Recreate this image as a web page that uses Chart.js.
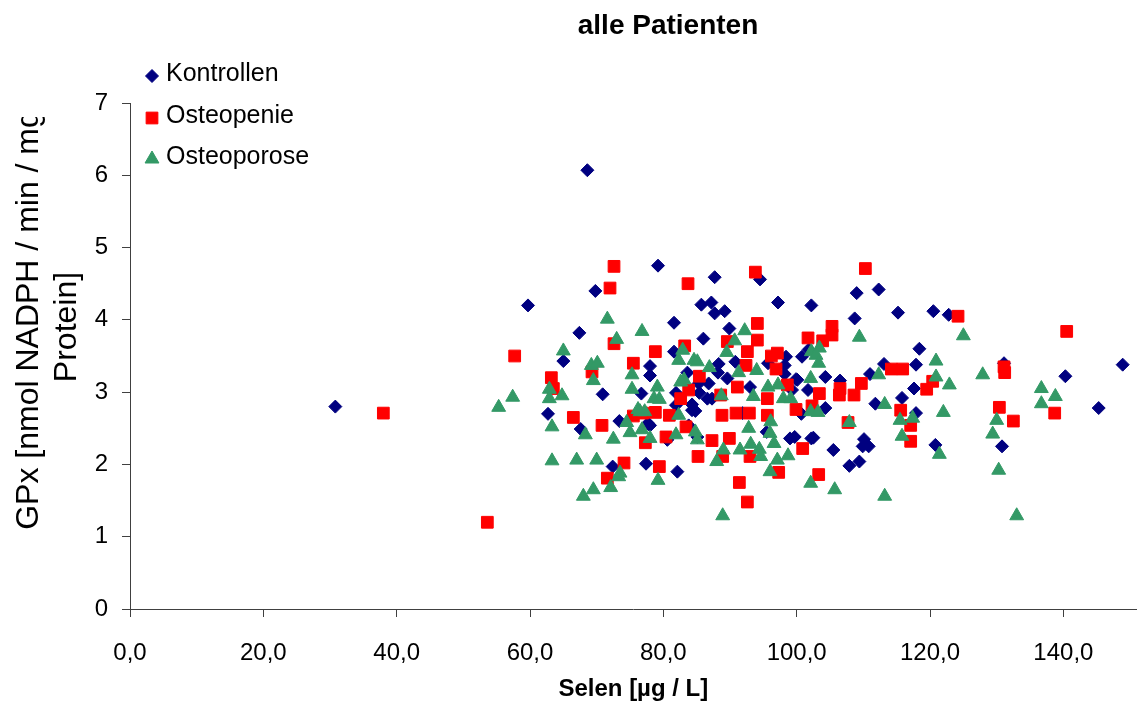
<!DOCTYPE html>
<html><head><meta charset="utf-8">
<script src="https://cdn.jsdelivr.net/npm/chart.js@4.4.1/dist/chart.umd.min.js"></script>
<style>html,body{margin:0;padding:0;background:#fff;}canvas{display:block;}</style>
</head><body>
<canvas id="c" width="1146" height="704"></canvas>
<script>
const chartTitle = 'alle Patienten';
const xAxisTitle = 'Selen [µg / L]';
const yAxisTitleLines = ['GPx [nmol NADPH / min / mg', 'Protein]'];
const seriesNames = ['Kontrollen', 'Osteopenie', 'Osteoporose'];
const xTickValues = [0, 20, 40, 60, 80, 100, 120, 140];
const yTickValues = [0, 1, 2, 3, 4, 5, 6, 7];

const kontrollenSelen = [30.8,68.6,59.7,69.8,79.2,87.7,94.5,85.7,87.2,87.7,89.2,97.2,102.2,81.6,89.9,67.4,86.0,65.0,70.9,78.0,78.0,81.6,98.4,101.8,88.3,90.8,100.8,98.2,99.9,99.3,83.6,88.2,89.6,86.8,85.3,76.7,81.9,85.4,93.0,62.7,67.6,73.4,78.0,80.6,72.4,77.4,82.1,84.3,87.3,85.1,91.9,99.0,99.7,102.2,100.6,81.9,86.6,84.3,84.8,77.7,83.8,95.5,109.0,112.3,108.7,115.2,120.5,122.8,118.4,117.9,113.1,111.0,104.3,106.5,100.1,117.6,115.8,111.8,104.3,117.9,100.7,148.9,140.3,131.1,145.3,130.8,120.8,102.5,105.5,110.1,110.8,109.9,109.4,107.9,95.7,98.2,101.7];
const kontrollenGPx = [2.80,6.07,4.20,4.40,4.75,4.59,4.56,4.21,4.24,4.09,4.12,4.24,4.20,3.96,3.88,3.82,3.74,3.43,2.97,3.36,3.23,3.56,3.49,3.59,3.39,3.42,3.49,3.25,3.18,3.03,3.27,3.27,3.19,3.12,3.12,2.98,2.99,2.99,3.07,2.70,2.49,2.60,2.54,2.34,1.97,2.01,1.90,2.75,2.91,2.38,2.71,2.36,2.38,2.36,2.71,2.82,2.91,2.83,2.74,2.57,2.54,2.45,4.37,4.42,4.02,4.10,4.12,4.07,3.60,3.38,3.39,3.25,3.21,3.16,3.17,3.05,2.92,2.84,2.78,2.71,2.70,3.38,3.22,3.40,2.78,2.25,2.27,2.37,2.20,2.35,2.25,2.25,2.04,1.98,3.40,3.37,3.03];

const osteopenieSelen = [38.0,53.6,57.7,72.6,72.0,83.7,93.8,72.6,78.8,75.5,83.2,63.2,63.5,69.3,89.6,94.1,94.1,92.6,96.2,97.1,101.7,96.9,92.4,91.1,98.6,85.4,88.6,83.8,82.6,66.5,70.8,77.3,75.5,78.8,80.9,83.4,80.4,74.1,71.6,79.4,85.2,87.3,89.9,88.8,90.9,92.9,91.4,92.6,93.0,95.6,95.6,97.3,99.9,100.9,88.9,110.3,124.2,140.5,105.3,105.3,103.9,114.2,115.9,131.2,109.7,120.4,119.5,106.5,106.4,103.4,108.6,102.3,115.6,130.4,132.5,138.7,107.7,117.1,117.1,103.3,76.9,131.1];
const osteopenieGPx = [2.71,1.20,3.50,4.74,4.44,4.50,4.66,3.67,3.56,3.40,3.64,3.20,3.05,3.28,3.70,3.95,3.72,3.56,3.50,3.54,3.75,3.32,3.37,3.07,3.10,3.22,2.96,3.03,2.91,2.65,2.54,2.30,2.67,2.72,2.68,2.52,2.38,2.02,1.81,1.97,2.11,2.33,2.36,2.68,2.71,2.71,1.75,1.48,2.11,2.91,2.68,1.89,2.76,2.22,2.11,4.71,4.05,3.84,3.91,3.79,3.71,3.32,3.32,3.27,3.12,3.15,3.04,3.05,2.96,2.98,2.96,2.81,2.75,2.79,2.60,2.71,2.58,2.54,2.32,1.86,2.71,3.35];

const osteoporoseSelen = [55.3,57.4,71.6,73.0,76.8,65.0,69.2,70.1,69.5,75.3,75.3,62.9,64.8,82.9,82.3,84.6,85.1,86.9,83.1,79.1,89.5,90.7,92.2,91.3,94.0,95.7,97.2,102.2,102.1,88.7,93.5,98.0,99.1,62.9,63.3,63.3,68.3,72.5,74.5,75.0,76.8,78.0,76.5,77.2,78.6,79.4,82.6,82.3,81.9,84.8,85.1,70.0,67.0,73.5,73.3,69.5,68.0,72.1,79.2,88.9,88.0,89.0,91.5,92.8,93.1,94.4,94.6,96.1,96.0,96.6,97.1,98.7,96.0,102.1,102.1,109.4,125.0,103.4,102.9,103.3,112.3,120.9,120.9,122.9,127.9,136.7,138.8,136.7,122.0,113.2,103.2,107.9,115.5,117.4,115.8,121.4,130.0,129.4,130.3,133.0,105.7,113.2,76.2];
const osteoporoseGPx = [2.79,2.93,4.01,3.73,3.84,3.57,3.37,3.40,3.16,3.24,3.04,3.04,2.95,3.58,3.44,3.44,3.42,3.34,3.17,3.07,3.55,3.71,3.85,3.27,3.30,3.07,3.10,3.56,3.19,2.95,2.94,2.91,2.91,2.91,2.52,2.05,2.41,2.35,2.58,2.44,2.48,2.36,2.73,2.73,2.91,2.90,3.14,2.68,2.41,2.45,2.34,2.06,2.06,1.88,1.83,1.65,1.56,1.68,1.78,1.29,2.04,2.20,2.20,2.50,2.28,2.21,2.11,2.59,2.43,2.29,2.06,2.12,1.90,1.74,2.73,3.76,3.78,3.61,3.51,3.40,3.24,3.43,3.21,3.10,3.24,3.05,2.94,2.84,2.72,2.83,2.72,2.58,2.61,2.64,2.39,2.14,2.61,2.42,1.92,1.29,1.65,1.56,2.76];

const FONT = '"Liberation Sans", Arial, sans-serif';
const toPoints = (xs, ys) => xs.map((x, i) => ({ x: x, y: ys[i] }));

const overlayPlugin = {
  id: 'overlay',
  afterDraw(chart) {
    const ctx = chart.ctx;
    ctx.save();
    // title
    ctx.fillStyle = '#000';
    ctx.font = 'bold 28px ' + FONT;
    ctx.textAlign = 'center';
    ctx.textBaseline = 'middle';
    ctx.fillText(chartTitle, 668, 26);
    // legend
    const rowsY = [74, 116, 157];
    ctx.font = '25px ' + FONT;
    ctx.textAlign = 'left';
    chart.data.datasets.forEach((ds, i) => {
      const y = rowsY[i];
      ctx.fillStyle = ds.backgroundColor;
      ctx.strokeStyle = ds.borderColor;
      ctx.lineWidth = 1;
      Chart.helpers.drawPoint(ctx, { pointStyle: ds.pointStyle, radius: ds.pointRadius, rotation: 0, borderWidth: 1 }, 152, y + 2);
      ctx.fillStyle = '#000';
      ctx.fillText(ds.label, 166, y);
    });
    // y axis title (clipped at top like the original)
    ctx.save();
    ctx.beginPath();
    ctx.rect(0, 117, 125, 600);
    ctx.clip();
    ctx.font = '32px ' + FONT;
    ctx.fillStyle = '#000';
    ctx.textAlign = 'center';
    ctx.textBaseline = 'alphabetic';
    const xs = [38, 76];
    const ys = [320, 327];
    yAxisTitleLines.forEach((line, i) => {
      ctx.save();
      ctx.translate(xs[i], ys[i]);
      ctx.rotate(-Math.PI / 2);
      ctx.fillText(line, 0, 0);
      ctx.restore();
    });
    ctx.restore();
    ctx.restore();
  }
};

const axisColor = '#404040';

new Chart(document.getElementById('c'), {
  type: 'scatter',
  data: {
    datasets: [
      { label: seriesNames[0], data: toPoints(kontrollenSelen, kontrollenGPx), pointStyle: 'rectRot', pointRadius: 6.5, pointHoverRadius: 6.5, backgroundColor: '#000080', borderColor: '#000080', borderWidth: 1, order: 3 },
      { label: seriesNames[1], data: toPoints(osteopenieSelen, osteopenieGPx), pointStyle: 'rect', pointRadius: 8.3, pointHoverRadius: 8.3, backgroundColor: '#FF0000', borderColor: '#FF0000', borderWidth: 1, order: 2 },
      { label: seriesNames[2], data: toPoints(osteoporoseSelen, osteoporoseGPx), pointStyle: 'triangle', pointRadius: 8, pointHoverRadius: 8, backgroundColor: '#339966', borderColor: '#339966', borderWidth: 1, order: 1 }
    ]
  },
  options: {
    responsive: false,
    animation: false,
    events: [],
    layout: { padding: { top: 103, left: 0, right: 0, bottom: 0 } },
    plugins: {
      legend: { display: false },
      title: { display: false },
      tooltip: { enabled: false }
    },
    scales: {
      x: {
        type: 'linear',
        min: 0,
        max: 151,
        afterBuildTicks: (scale) => { scale.ticks = xTickValues.map(v => ({ value: v })); },
        afterFit: (scale) => { scale.height = 95; },
        ticks: {
          autoSkip: false, maxRotation: 0, padding: 22,
          color: '#000', font: { family: FONT, size: 24 },
          callback: (v) => Number(v).toFixed(1).replace('.', ',')
        },
        grid: { drawOnChartArea: false, drawTicks: true, tickLength: 8, tickColor: axisColor },
        border: { display: true, color: axisColor, width: 1 },
        title: { display: true, text: xAxisTitle, color: '#000', font: { family: FONT, size: 24, weight: 'bold' }, padding: { top: 0, bottom: 0 } }
      },
      y: {
        type: 'linear',
        min: 0,
        max: 7,
        afterBuildTicks: (scale) => { scale.ticks = yTickValues.map(v => ({ value: v })); },
        afterFit: (scale) => { scale.width = 130; },
        ticks: { autoSkip: false, padding: 14, color: '#000', font: { family: FONT, size: 24 }, callback: (v) => String(v) },
        grid: { drawOnChartArea: false, drawTicks: true, tickLength: 8, tickColor: axisColor },
        border: { display: true, color: axisColor, width: 1 }
      }
    }
  },
  plugins: [overlayPlugin]
});
</script>
</body></html>
